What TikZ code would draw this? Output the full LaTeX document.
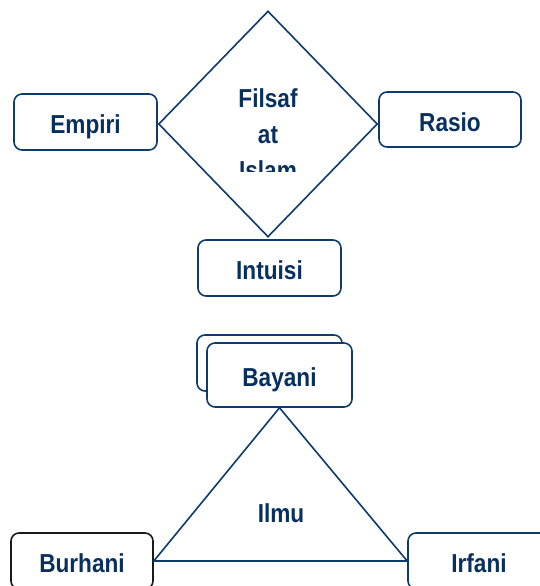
\documentclass[tikz,border=0pt]{standalone}
\usepackage{fontspec}
\setmainfont[FakeStretch=0.87]{Liberation Sans}
\usetikzlibrary{shapes.geometric,positioning}
\definecolor{navy}{HTML}{0D3B6E}
\definecolor{navytext}{HTML}{07305F}
\definecolor{hitam}{HTML}{1A1A1A}

\begin{document}
\begin{tikzpicture}[x=1pt,y=-1pt,line width=1.6pt,
	box/.style={draw=navy,rounded corners=8pt,minimum width=143pt,minimum height=56pt,inner sep=0pt,fill=white,text height=23pt,text depth=0pt},
	txt/.style={text=navytext,font=\fontsize{26}{36}\selectfont\bfseries}]
	\useasboundingbox (0,0) rectangle (539,586);

	% filsafat islam
	\node[diamond,draw=navy,minimum width=219pt,minimum height=226pt,inner sep=0pt] (filsafat) at (268,124) {};
	\begin{scope}
		\clip (200,70) rectangle (340,171);
		\node[txt,align=center] (judul) at (268,134) {Filsaf\\at\\Islam};
	\end{scope}
	\node[box,txt] (empiri) at (85.5,122) {Empiri};
	\node[box,txt,minimum width=142pt,minimum height=55pt] (rasio) at (450,119.5) {Rasio};
	\node[box,txt] (intuisi) at (269.5,268) {Intuisi};

	% ilmu
	\node[box,minimum width=145pt] (bayani_b) at (269.5,363) {};
	\node[box,txt,minimum width=145pt,minimum height=64pt] (bayani) at (279.5,375) {Bayani};
	\node[box,txt,draw=hitam,minimum width=142pt] (burhani) at (82,561) {Burhani};
	\node[box,txt,minimum width=142pt] (irfani) at (479,561) {Irfani};
	\draw[navy] (bayani.south) -- (burhani.east) -- (irfani.west) -- cycle;
	\node[txt] (ilmu) at (281,513) {Ilmu};
\end{tikzpicture}
\end{document}
